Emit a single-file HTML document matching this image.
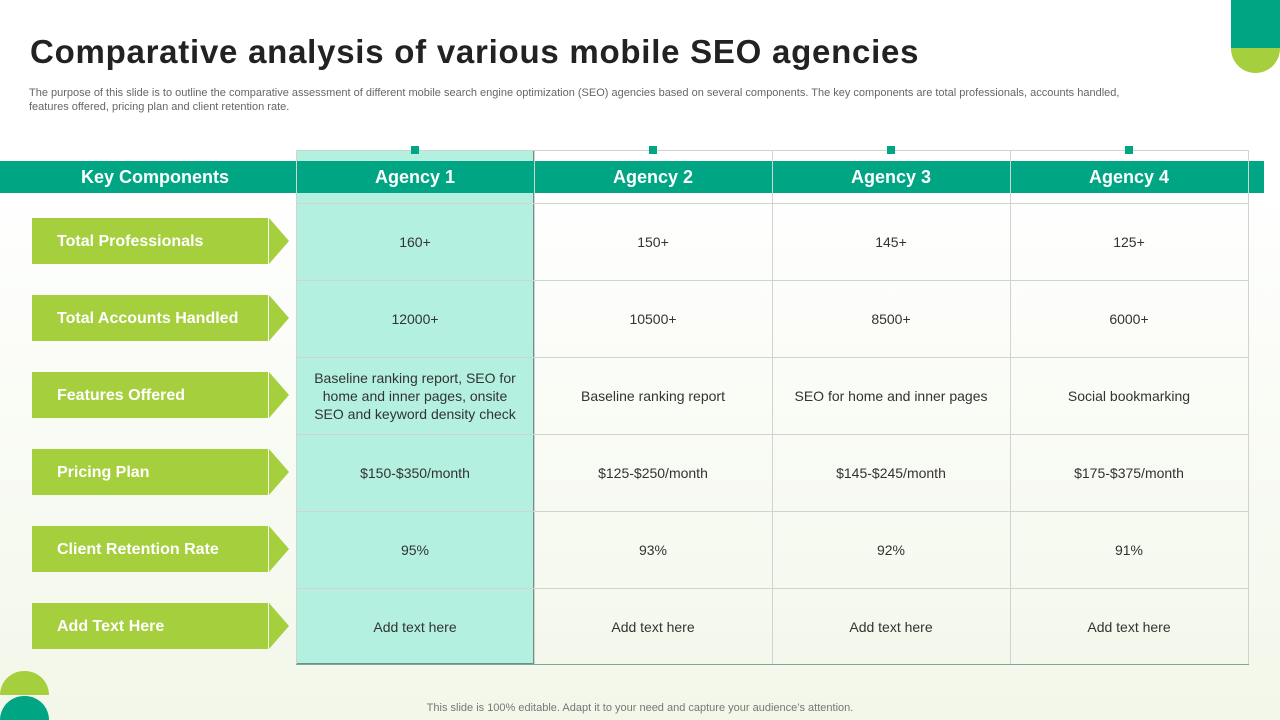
<!DOCTYPE html>
<html><head><meta charset="utf-8"><style>
*{margin:0;padding:0;box-sizing:border-box}
body{width:1280px;height:720px;position:relative;overflow:hidden;font-family:"Liberation Sans",Arial,sans-serif;background:linear-gradient(#ffffff 0%,#ffffff 25%,#f2f7e9 100%)}
.abs{position:absolute}
h1{position:absolute;left:30px;top:33px;font-size:33px;font-weight:bold;color:#222;letter-spacing:0.75px;white-space:nowrap}
.desc{left:29px;top:87px;width:1200px;font-size:11px;color:#666;line-height:13.5px}
.band{left:0;top:161px;width:1264px;height:32px;background:#00a684}
.hd{color:#fff;font-weight:bold;font-size:18px;text-align:center;line-height:32px;top:161px;height:32px}
.col1{left:296px;top:150px;width:238px;height:514px;background:#b3f0e0;border:1px solid #6f8f88}
.vl{width:1px;background:#cfd4d0;top:150px;height:514px}
.hl{height:1px;background:#cfd4d0;left:296px;width:953px}
.dot{width:8px;height:8px;background:#00a684;top:146px}
.lbl{left:32px;width:236px;height:46px;background:#a6cf3e;color:#fff;font-weight:bold;font-size:16px;line-height:48px;padding-left:25px}
.arr{left:269px;width:0;height:0;border-top:23px solid transparent;border-bottom:23px solid transparent;border-left:20px solid #a6cf3e}
.cell{width:238px;height:77px;display:flex;align-items:center;justify-content:center;text-align:center;font-size:14px;color:#333;line-height:18px;padding:0 13px}
.foot{left:0;width:1280px;top:702px;text-align:center;font-size:11px;color:#777}
</style></head><body>
<div class="abs" style="left:1231px;top:0;width:49px;height:48px;background:#00a684"></div>
<div class="abs" style="left:1231px;top:48px;width:49px;height:25px;background:#a6cf3e;border-radius:0 0 25px 25px"></div>
<div class="abs" style="left:0;top:671px;width:49px;height:24px;background:#a6cf3e;border-radius:25px 25px 0 0"></div>
<div class="abs" style="left:0;top:696px;width:49px;height:24px;background:#00a684;border-radius:25px 25px 0 0"></div>
<h1>Comparative analysis of various mobile SEO agencies</h1>
<div class="abs desc">The purpose of this slide is to outline the comparative assessment of different mobile search engine optimization (SEO) agencies based on several components. The key components are total professionals, accounts handled,<br>features offered, pricing plan and client retention rate.</div>
<div class="abs col1"></div>
<div class="abs band"></div>
<div id="grid"></div>
<div class="abs hd" style="left:0;width:310px">Key Components</div>
<div class="abs foot">This slide is 100% editable. Adapt it to your need and capture your audience’s attention.</div>
<script>
const agencies=["Agency 1","Agency 2","Agency 3","Agency 4"];
const rows=["Total Professionals","Total Accounts Handled","Features Offered","Pricing Plan","Client Retention Rate","Add Text Here"];
const vals=[
["160+","150+","145+","125+"],
["12000+","10500+","8500+","6000+"],
["Baseline ranking report, SEO for home and inner pages, onsite SEO and keyword density check","Baseline ranking report","SEO for home and inner pages","Social bookmarking"],
["$150-$350/month","$125-$250/month","$145-$245/month","$175-$375/month"],
["95%","93%","92%","91%"],
["Add text here","Add text here","Add text here","Add text here"]];
const g=document.getElementById('grid');
function mk(cls,css,txt){const d=document.createElement('div');d.className='abs '+cls;d.style.cssText=css;if(txt)d.textContent=txt;g.appendChild(d);return d;}
const x0=296,cw=238,y0=203,rh=77;
for(let i=0;i<=4;i++){const v=mk('vl','left:'+(x0+i*cw)+'px');

}
[150].concat(rows.map((r,i)=>y0+i*rh)).forEach(y=>{const h=mk('hl','top:'+y+'px');

});
const b=mk('hl','top:'+(y0+6*rh-1)+'px;background:#7fa59c');


agencies.forEach((a,i)=>{
const h=mk('hd','left:'+(x0+i*cw)+'px;width:'+cw+'px',a);


const d=mk('dot','left:'+(x0+i*cw+cw/2-4)+'px');


});
rows.forEach((r,j)=>{
const y=y0+j*rh;
const l=mk('lbl','top:'+(y+15)+'px',r);


const ar=mk('arr','top:'+(y+15)+'px');


vals[j].forEach((v,i)=>{
const c=mk('cell','left:'+(x0+i*cw)+'px;top:'+y+'px',v);


});
});
</script>
</body></html>
